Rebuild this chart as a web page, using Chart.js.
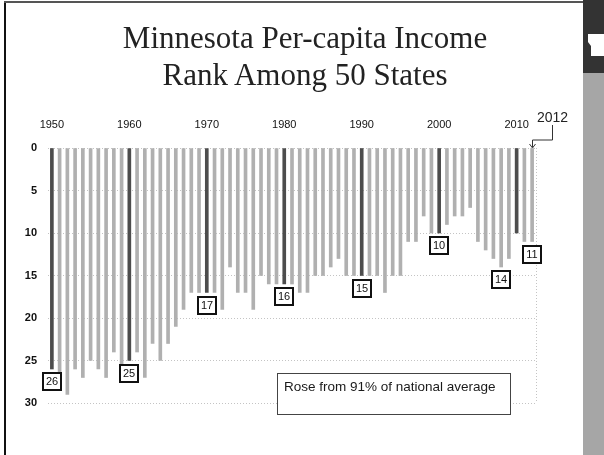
<!DOCTYPE html>
<html>
<head>
<meta charset="utf-8">
<script src="https://cdn.jsdelivr.net/npm/chart.js@4.4.0/dist/chart.umd.min.js"></script>
<style>
  html, body { margin: 0; padding: 0; background: #fff; }
  #wrap { position: relative; width: 604px; height: 455px; overflow: hidden; background: #fff; }
  #chart { position: absolute; left: 0; top: 0; }
  .title { position: absolute; left: 0; width: 610px; text-align: center; font-family: 'Liberation Serif', 'DejaVu Serif', serif; font-size: 31px; color: #222; }
  #frameL { position: absolute; left: 4px; top: 1px; width: 2px; height: 455px; background: #111; }
  #frameT { position: absolute; left: 4px; top: 1px; width: 580px; height: 2px; background: #555; }
  #side { position: absolute; left: 583px; top: 0; width: 21px; height: 455px; background: #a6a6a6; }
  #sideTop { position: absolute; left: 583px; top: 0; width: 21px; height: 73px; background: #333; }
</style>
</head>
<body>
<div id="wrap">
  <canvas id="chart" width="604" height="455"></canvas>
  <div id="frameL"></div>
  <div id="frameT"></div>
  <div id="side"></div>
  <div id="sideTop"></div>
  <svg style="position:absolute;left:583px;top:30px" width="21" height="30">
    <polygon points="5,4 21,4 21,26 8,26 8,16 5,12" fill="#fff"/>
  </svg>
  <div class="title" style="top:20px">Minnesota Per-capita Income</div>
  <div class="title" style="top:57px">Rank Among 50 States</div>
</div>
<script>
var years = [];
for (var yr = 1950; yr <= 2012; yr++) years.push(String(yr));

var rank = [
  26, 27, 29, 26, 27, 25, 26, 27, 24, 27,
  25, 24, 27, 23, 25, 23, 21, 19, 17, 17,
  17, 17, 19, 14, 17, 17, 19, 15, 16, 16,
  16, 16, 17, 17, 15, 15, 14, 13, 15, 15,
  15, 15, 15, 17, 15, 15, 11, 11, 8, 10,
  10, 9, 8, 8, 7, 11, 12, 13, 14, 13,
  10, 11, 11
];

var boxedYears = ['1950', '1960', '1970', '1980', '1990', '2000', '2008', '2012'];
var yTicks = [0, 5, 10, 15, 20, 25, 30];
var noteText = 'Rose from 91% of national average';
var calloutText = '2012';

var barColors = years.map(function(y) { return (+y % 10 === 0) ? '#4d4d4d' : '#b0b0b0'; });

var extras = {
  id: 'extras',
  afterDatasetsDraw: function(chart) {
    var ctx = chart.ctx, ca = chart.chartArea, meta = chart.getDatasetMeta(0);
    ctx.save();
    // right dotted border of plot area
    ctx.strokeStyle = '#c4c4c4';
    ctx.lineWidth = 1;
    ctx.setLineDash([1, 2]);
    ctx.beginPath();
    ctx.moveTo(Math.round(ca.right) + 0.5, ca.top);
    ctx.lineTo(Math.round(ca.right) + 0.5, ca.bottom);
    ctx.stroke();
    ctx.setLineDash([]);

    // boxed value labels under chosen bars
    ctx.font = '11px "Liberation Sans", Arial, sans-serif';
    ctx.textAlign = 'center';
    ctx.textBaseline = 'middle';
    for (var i = 0; i < boxedYears.length; i++) {
      var idx = years.indexOf(boxedYears[i]);
      var bar = meta.data[idx];
      var bx = Math.round(bar.x), by = Math.round(bar.y) + 4;
      ctx.fillStyle = '#fff';
      ctx.fillRect(bx - 9, by, 18, 17);
      ctx.strokeStyle = '#111';
      ctx.lineWidth = 2;
      ctx.strokeRect(bx - 9, by, 18, 17);
      ctx.fillStyle = '#111';
      ctx.fillText(String(rank[idx]), bx, by + 9);
    }

    // 2012 callout
    var last = meta.data[years.length - 1];
    var lx = Math.round(last.x) + 0.5;
    ctx.fillStyle = '#222';
    ctx.font = '14px "Liberation Sans", Arial, sans-serif';
    ctx.fillText(calloutText, lx + 20, ca.top - 30);
    ctx.strokeStyle = '#333';
    ctx.lineWidth = 1;
    ctx.beginPath();
    ctx.moveTo(lx + 20, ca.top - 23);
    ctx.lineTo(lx + 20, ca.top - 8);
    ctx.lineTo(lx, ca.top - 8);
    ctx.lineTo(lx, ca.top - 1);
    ctx.stroke();
    ctx.beginPath();
    ctx.moveTo(lx - 3, ca.top - 4);
    ctx.lineTo(lx, ca.top);
    ctx.lineTo(lx + 3, ca.top - 4);
    ctx.stroke();

    // note box
    var ys = chart.scales.y;
    var top = ys.getPixelForValue(26.5), bot = ys.getPixelForValue(31.3);
    ctx.fillStyle = '#fff';
    ctx.fillRect(277, top, 234, bot - top);
    ctx.strokeStyle = '#444';
    ctx.lineWidth = 1;
    ctx.strokeRect(277.5, Math.round(top) + 0.5, 233, Math.round(bot - top));
    ctx.fillStyle = '#1a1a1a';
    ctx.font = '13.5px "Liberation Sans", Arial, sans-serif';
    ctx.textAlign = 'left';
    ctx.fillText(noteText, 284, top + 14);
    ctx.restore();
  }
};

new Chart(document.getElementById('chart'), {
  type: 'bar',
  data: {
    labels: years,
    datasets: [{ data: rank, backgroundColor: barColors, barThickness: 3, borderWidth: 0 }]
  },
  options: {
    responsive: false,
    animation: false,
    events: [],
    layout: { padding: { left: 0, top: 100, right: 68, bottom: 52 } },
    plugins: { legend: { display: false }, tooltip: { enabled: false } },
    scales: {
      x: {
        position: 'top',
        afterFit: function(s) { s.height = 48; },
        grid: { display: false },
        border: { display: false },
        ticks: {
          autoSkip: false, minRotation: 0, maxRotation: 0, padding: 8,
          color: '#111', font: { family: '"Liberation Sans", Arial, sans-serif', size: 11 },
          callback: function(v, i) { return (+years[i] % 10 === 0) ? years[i] : ''; }
        }
      },
      y: {
        reverse: true,
        min: 0, max: 30,
        afterFit: function(s) { s.width = 48; },
        afterBuildTicks: function(s) { s.ticks = yTicks.map(function(v) { return { value: v }; }); },
        grid: { color: '#c4c4c4', drawTicks: false, lineWidth: 1 },
        border: { display: false, dash: [1, 2] },
        ticks: { padding: 11, color: '#111', font: { family: '"Liberation Sans", Arial, sans-serif', size: 11, weight: 'bold' } }
      }
    }
  },
  plugins: [extras]
});
</script>
</body>
</html>
